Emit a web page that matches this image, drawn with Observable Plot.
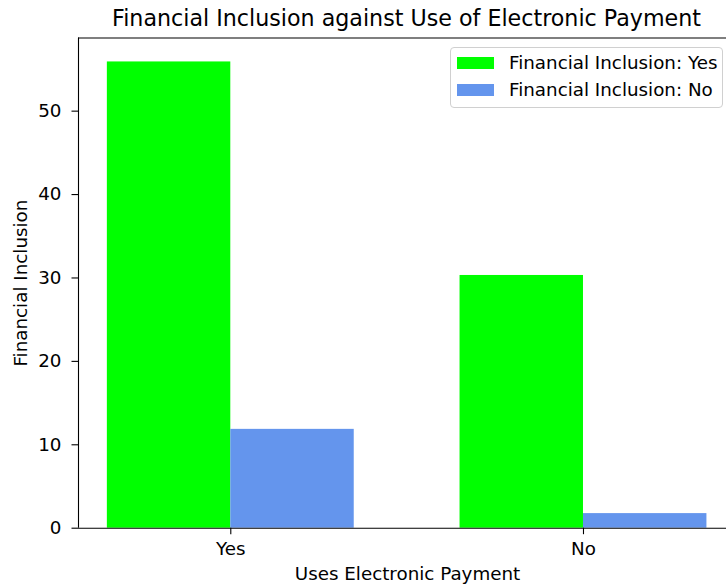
<!DOCTYPE html>
<html>
<head>
<meta charset="utf-8">
<script src="https://cdn.jsdelivr.net/npm/d3@7"></script>
<script src="https://cdn.jsdelivr.net/npm/@observablehq/plot@0.6"></script>
<style>
  body { margin: 0; background: #fff; }
  #wrap { position: relative; width: 726px; height: 587px; font-family: "DejaVu Sans", sans-serif; }
  #legend { position: absolute; left: 450px; top: 47px; width: 273px; height: 61px; box-sizing: border-box;
            border: 1px solid #d0d0d0; border-radius: 4px; background: rgba(255,255,255,0.85); }
  .item { position: absolute; left: 6px; height: 13px; font-size: 18.3px; line-height: 18.3px; color: #000; white-space: nowrap; }
  .sw { position: absolute; left: 0; top: 0; width: 37px; height: 12.7px; }
  .lab { position: absolute; left: 52px; top: -3.2px; }
</style>
</head>
<body>
<div id="wrap">
  <div id="chart"></div>
  <div id="legend"></div>
</div>
<script>
const categories = ["Yes", "No"];
const inclusionYes = [55.9, 30.3];
const inclusionNo = [11.85, 1.75];
const seriesNames = ["Financial Inclusion: Yes", "Financial Inclusion: No"];
const seriesColors = ["#00ff00", "#6495ed"];
const yTicks = [0, 10, 20, 30, 40, 50];
const barWidth = 0.35;

const rows = [];
categories.forEach((c, i) => {
  [inclusionYes, inclusionNo].forEach((vals, s) => {
    rows.push({cat: c, i, series: seriesNames[s], x1: i + (s - 1) * barWidth, x2: i + s * barWidth, value: vals[i]});
  });
});

const xDomain = [-0.4318, 1.4055];
const yMax = 58.77;

const chart = Plot.plot({
  width: 726,
  height: 587,
  marginLeft: 78,
  marginRight: 0,
  marginTop: 37.5,
  marginBottom: 59.3,
  style: {fontFamily: "DejaVu Sans", fontSize: "18.3px", color: "#000", background: "#fff", overflow: "visible"},
  x: {type: "linear", domain: xDomain},
  y: {domain: [0, yMax]},
  color: {domain: seriesNames, range: seriesColors},
  marks: [
    Plot.rectY(rows, {x1: "x1", x2: "x2", y1: 0, y2: "value", fill: "series"}),
    Plot.ruleY([0], {stroke: "#000", strokeWidth: 1.1}),
    Plot.ruleY([yMax], {stroke: "#000", strokeWidth: 1.1}),
    Plot.ruleX([xDomain[0]], {stroke: "#000", strokeWidth: 1.1}),
    Plot.axisX(categories.map((c, i) => i), {tickFormat: d => categories[d], tickSize: 6.5, tickPadding: 7.5, fontSize: 18.3, label: null, strokeWidth: 1.1}),
    Plot.axisY(yTicks, {tickSize: 6.5, tickPadding: 10.5, fontSize: 18.3, label: null, strokeWidth: 1.1}),
    Plot.text(["Financial Inclusion against Use of Electronic Payment"], {frameAnchor: "top", dx: 4, dy: -19.5, fontSize: 22.2, lineAnchor: "middle", fill: "#000"}),
    Plot.text(["Uses Electronic Payment"], {frameAnchor: "bottom", dx: 5, dy: 46, fontSize: 18.3, lineAnchor: "middle", fill: "#000"}),
    Plot.text(["Financial Inclusion"], {frameAnchor: "left", dx: -57, rotate: -90, textAnchor: "middle", fontSize: 18.3, lineAnchor: "middle", fill: "#000"})
  ]
});
document.getElementById("chart").appendChild(chart);

const legend = document.getElementById("legend");
seriesNames.forEach((name, k) => {
  const item = document.createElement("div");
  item.className = "item";
  item.style.top = (8.7 + k * 27) + "px";
  item.innerHTML = `<div class="sw" style="background:${seriesColors[k]}"></div><div class="lab">${name}</div>`;
  legend.appendChild(item);
});
</script>
</body>
</html>
